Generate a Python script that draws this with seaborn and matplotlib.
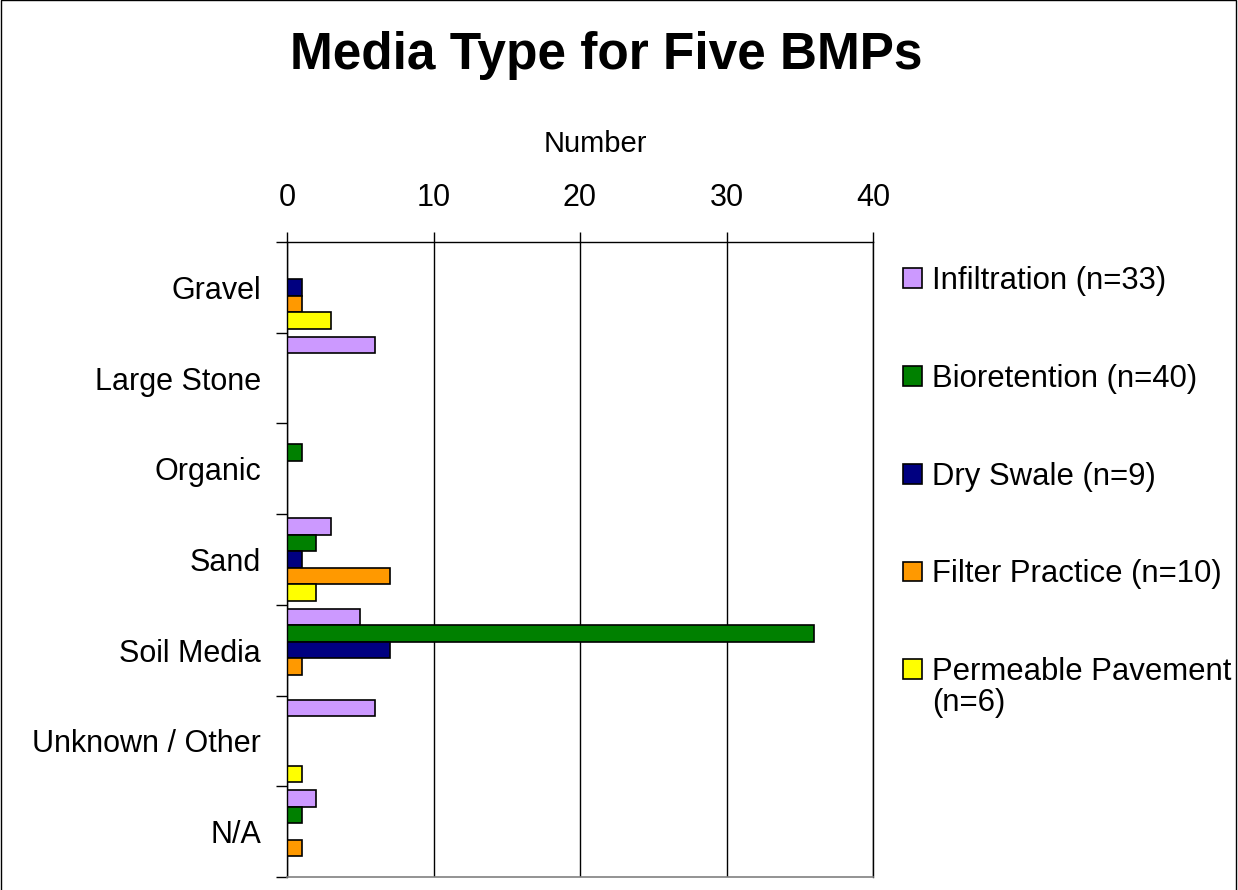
import numpy as np
import pandas as pd
import matplotlib
matplotlib.use("Agg")
import matplotlib.pyplot as plt
import seaborn as sns
from matplotlib.patches import Rectangle

# Media types (rows) and counts per BMP type
media_types = ["Gravel", "Large Stone", "Organic", "Sand", "Soil Media",
               "Unknown / Other", "N/A"]
bmp_labels = ["Infiltration (n=33)", "Bioretention (n=40)", "Dry Swale (n=9)",
              "Filter Practice (n=10)", "Permeable Pavement"]
last_label_tail = "(n=6)"
infiltration = [0, 6, 0, 3, 5, 6, 2]
bioretention = [0, 0, 1, 2, 36, 0, 1]
dry_swale = [1, 0, 0, 1, 7, 0, 0]
filter_practice = [1, 0, 0, 7, 1, 0, 1]
permeable_pavement = [3, 0, 0, 2, 0, 1, 0]
x_ticks = [0, 10, 20, 30, 40]

bar_colors = ["#CC99FF", "#008000", "#000080", "#FF9900", "#FFFF00"]

sns.set_theme(style="white")
plt.rcParams["font.family"] = ["Liberation Sans", "DejaVu Sans"]
plt.rcParams["text.color"] = "black"
plt.rcParams["axes.labelcolor"] = "black"
plt.rcParams["xtick.color"] = "black"
plt.rcParams["ytick.color"] = "black"

series = [infiltration, bioretention, dry_swale, filter_practice, permeable_pavement]
records = []
for label, values in zip(bmp_labels, series):
    for media, count in zip(media_types, values):
        records.append({"Media": media, "BMP": label, "Number": count})
df = pd.DataFrame(records)

W, H = 1238, 890
fig = plt.figure(figsize=(W / 100, H / 100), dpi=100)
ax = fig.add_axes([287 / W, 1 - 877 / H, (873 - 287) / W, (877 - 242) / H])

sns.barplot(data=df, y="Media", x="Number", hue="BMP", order=media_types,
            hue_order=bmp_labels, palette=bar_colors, orient="h", width=0.91,
            edgecolor="black", linewidth=1.2, saturation=1, ax=ax)

# Axis styling
ax.set_xlim(0, 40)
ax.set_xticks(x_ticks)
ax.xaxis.tick_top()
ax.xaxis.set_label_position("top")
ax.tick_params(axis="x", which="major", direction="out", length=7, width=1,
               color="black", pad=14, labelsize=22, top=True, bottom=False)
ax.set_xlabel("Number", fontsize=21, labelpad=20)
ax.xaxis.set_label_coords((595 - 287) / (873 - 287), (877 - 152) / (877 - 242))
ax.set_ylabel("")
ax.xaxis.grid(True, color="black", linewidth=1)
ax.set_axisbelow(True)

ax.set_yticks(range(len(media_types)))
ax.set_yticklabels(media_types)
ax.set_yticks(np.arange(-0.5, len(media_types)), minor=True)
ax.tick_params(axis="y", which="major", length=0, pad=18.7, labelsize=22)
ax.tick_params(axis="y", which="minor", direction="out", length=8, width=1,
               color="black", left=True)

for side in ["left", "top", "right"]:
    ax.spines[side].set_visible(True)
    ax.spines[side].set_color("black")
    ax.spines[side].set_linewidth(1)
ax.spines["bottom"].set_color("#808080")
ax.spines["bottom"].set_linewidth(1.2)

# Legend to the right of the plot area
handles, labels = ax.get_legend_handles_labels()
ax.legend_.remove()
leg = fig.legend(handles, labels, loc="upper left",
                 bbox_to_anchor=(903 / W, 1 - 266 / H), frameon=False,
                 fontsize=22.4, handlelength=0.6, handleheight=0.6,
                 handletextpad=0.34, labelspacing=2.18, borderpad=0,
                 borderaxespad=0)

# Second line of the last legend entry
fig.canvas.draw()
last_bb = leg.get_texts()[-1].get_window_extent()
fig.text(last_bb.x0 / W, (last_bb.y0 - 31) / H, last_label_tail,
         fontsize=22.4, ha="left", va="bottom")

fig.text(606 / W, 1 - 56 / H, "Media Type for Five BMPs", ha="center",
         va="center", fontsize=37, fontweight="bold")

# Chart border
fig.add_artist(Rectangle((0.5 / W, -0.02), (1236 - 0.5) / W, 1.02 - 0.5 / H,
                         transform=fig.transFigure, fill=False,
                         edgecolor="black", linewidth=1))

fig.savefig("out.png", dpi=100)
